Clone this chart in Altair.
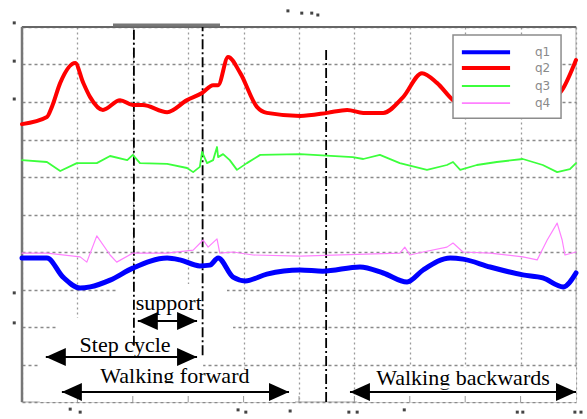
import altair as alt
import pandas as pd

# ---------------- data (time 0..10, amplitude 0..10; original tick labels illegible) ----------------
q1_t = [0, 0.45, 0.74, 1.05, 1.23, 1.59, 2.0, 2.62, 2.85, 3.21, 3.39, 3.54, 3.81, 4.03, 4.42, 5.02,
        5.43, 6.10, 6.52, 6.95, 7.24, 7.73, 7.96, 8.45, 9.04, 9.40, 9.77, 10]
q1_v = [3.84, 3.84, 3.33, 3.04, 3.07, 3.25, 3.57, 3.84, 3.79, 3.63, 3.65, 3.84, 3.33, 3.23, 3.41, 3.52,
        3.49, 3.60, 3.44, 3.20, 3.52, 3.84, 3.81, 3.60, 3.39, 3.31, 3.07, 3.44]

q2_t = [0, 0.45, 0.54, 0.69, 0.96, 1.10, 1.23, 1.46, 1.77, 2.0, 2.18, 2.62, 2.98, 3.25, 3.45, 3.54,
        3.72, 3.94, 4.24, 4.42, 5.02, 5.51, 5.87, 6.16, 6.52, 6.88, 7.22, 7.49, 7.78, 8.2, 8.7, 9.2,
        9.5, 9.75, 10]
q2_v = [7.41, 7.60, 7.87, 8.51, 9.04, 8.53, 8.13, 7.79, 8.05, 7.92, 7.92, 7.73, 8.05, 8.24, 8.45, 8.45,
        9.20, 8.77, 7.87, 7.71, 7.63, 7.71, 7.79, 7.71, 7.71, 8.13, 8.77, 8.51, 8.05, 7.75, 7.70, 7.80,
        8.00, 8.32, 9.12]

q3_t = [0, 0.45, 0.69, 0.99, 1.35, 1.59, 1.90, 2.0, 2.13, 2.62, 2.98, 3.09, 3.21, 3.25, 3.34, 3.45,
        3.52, 3.54, 3.63, 3.75, 3.88, 4.06, 4.30, 5.02, 5.97, 6.16, 6.46, 6.82, 7.31, 7.67, 7.78, 7.91,
        8.21, 8.57, 9.04, 9.40, 9.66, 9.89, 10]
q3_v = [6.45, 6.40, 6.16, 6.37, 6.37, 6.56, 6.45, 6.59, 6.37, 6.35, 6.24, 6.13, 6.27, 6.67, 6.37, 6.45,
        6.80, 6.53, 6.61, 6.45, 6.19, 6.37, 6.59, 6.61, 6.53, 6.48, 6.59, 6.37, 6.19, 6.32, 6.40, 6.19,
        6.32, 6.40, 6.48, 6.32, 6.13, 6.21, 6.37]

q4_t = [0, 0.45, 1.05, 1.17, 1.35, 1.59, 1.71, 2.0, 2.62, 3.09, 3.27, 3.36, 3.52, 3.57, 3.81, 4.17,
        5.02, 6.82, 6.91, 7.00, 7.24, 7.67, 7.78, 7.96, 8.45, 9.04, 9.30, 9.48, 9.66, 9.75, 9.80, 10]
q4_v = [3.97, 3.97, 3.87, 3.73, 4.43, 3.92, 3.73, 3.97, 3.97, 4.05, 4.32, 4.13, 4.35, 3.97, 4.00, 3.92,
        3.89, 3.97, 4.13, 3.92, 4.00, 4.13, 4.24, 4.00, 3.97, 3.87, 3.79, 4.32, 4.77, 4.32, 3.92, 4.00]

series_names = ["q1", "q2", "q3", "q4"]
series_colors = ["#0000ff", "#ff0000", "#3cff3c", "#ff80ff"]
series_widths = [5, 4, 1.8, 1.2]

# phase markers (dash-dot verticals)
phase_x = [2.02, 3.26, 5.49]
phase_top = [10, 10, 9.44]
phase_bottom = [1.5, 1.25, 0]

# annotation arrows
arrow_label = ["support", "Step cycle", "Walking forward", "Walking backwards"]
arrow_from = [2.09, 0.43, 0.72, 5.92]
arrow_to = [3.16, 3.16, 4.82, 10.0]
arrow_y = [2.16, 1.20, 0.27, 0.27]
label_x = [2.65, 1.86, 2.76, 7.96]
label_y = [2.45, 1.33, 0.51, 0.45]

# stray fragments of illegible tick labels
frag_x = [-0.14, -0.14, -0.14, -0.14, -0.14, 4.80, 5.05, 5.23, 5.34,
          0.87, 1.05, 3.90, 4.04, 4.84, 5.90, 6.05, 6.90, 8.94, 9.04, 9.98, 10.09]
frag_y = [10.11, 9.09, 8.08, 2.91, 2.11, 10.43, 10.37, 10.37, 10.32,
          -0.19, -0.27, -0.21, -0.27, -0.24, -0.27, -0.27, -0.21, -0.27, -0.27, -0.27, -0.27]

tick_values = list(range(11))

# ---------------- tables ----------------
curves = []
for name, ts, vs in zip(series_names, [q1_t, q2_t, q3_t, q4_t], [q1_v, q2_v, q3_v, q4_v]):
    curves.append(pd.DataFrame({"x": ts, "y": vs, "series": name}))

phase_df = pd.DataFrame({"x": phase_x, "y": phase_bottom, "y2": phase_top})
arrow_df = pd.DataFrame({"label": arrow_label, "x": arrow_from, "x2": arrow_to, "y": arrow_y,
                         "lx": label_x, "ly": label_y})
heads_df = pd.concat([
    pd.DataFrame({"x": arrow_from, "y": arrow_y, "dir": "left"}),
    pd.DataFrame({"x": arrow_to, "y": arrow_y, "dir": "right"}),
])
frag_df = pd.DataFrame({"x": frag_x, "y": frag_y})
tick_df = pd.DataFrame({"x": tick_values[1:-1]})

# white patches behind the annotations (hide the grid)
mask_df = pd.DataFrame({
    "x": [1.71, 0.65, 0.32, 0.72, 6.05],
    "x2": [3.70, 3.81, 3.27, 4.93, 10.0],
    "y": [1.92, 1.52, 0.0, 0.0, 0.0],
    "y2": [3.15, 2.24, 1.52, 0.85, 0.93],
})
# thin bands that clip the descenders of the two lower labels
cut_df = pd.DataFrame({"x": [0.9, 6.1], "x2": [4.7, 9.8], "y": [0.36, 0.36], "y2": [0.50, 0.44]})

# manual legend
leg_box = pd.DataFrame({"x": [7.78], "x2": [9.73], "y": [7.57], "y2": [9.79]})
leg_df = pd.DataFrame({"series": series_names, "x": [7.94] * 4, "x2": [8.81] * 4,
                       "y": [9.33, 8.91, 8.43, 7.97], "lx": [9.26] * 4, "w": [4, 4, 2, 1.8]})

dummy = pd.DataFrame({"a": [0]})

# ---------------- encodings ----------------
XS = alt.Scale(domain=[0, 10], nice=False, zero=False)
YS = alt.Scale(domain=[0, 10], nice=False, zero=False)
XA = alt.Axis(values=tick_values, labels=False, ticks=False, domain=False, title="",
              grid=True, gridDash=[2, 3], gridColor="#9a9a9a", gridWidth=1.3)
YA = alt.Axis(values=tick_values, labels=False, ticks=False, domain=False, title="",
              grid=True, gridDash=[3, 3], gridColor="#8a8a8a", gridWidth=1.5)


def X(f):
    return alt.X(f, type="quantitative", scale=XS, axis=XA)


def Y(f):
    return alt.Y(f, type="quantitative", scale=YS, axis=YA)


layers = []

layers.append(alt.Chart(mask_df).mark_rect(color="white").encode(
    x=X("x"), x2="x2", y=Y("y"), y2="y2"))

layers.append(alt.Chart(tick_df).mark_rule(color="#999999", strokeWidth=1).encode(
    x=X("x"), y=alt.value(375), y2=alt.value(369)))

# frame
layers.append(alt.Chart(dummy).mark_rule(color="#666666", strokeWidth=2.2).encode(
    x=alt.value(0), x2=alt.value(554), y=alt.value(0)))
layers.append(alt.Chart(dummy).mark_rule(color="#777777", strokeWidth=2.5).encode(
    x=alt.value(0), y=alt.value(0), y2=alt.value(375)))
layers.append(alt.Chart(dummy).mark_rule(color="#777777", strokeWidth=3).encode(
    x=alt.value(91), x2=alt.value(198), y=alt.value(-2)))

layers.append(alt.Chart(phase_df).mark_rule(color="black", strokeWidth=1.8, strokeDash=[10, 3, 2, 3]).encode(
    x=X("x"), y=Y("y"), y2="y2"))

for df, col, w in zip(curves, series_colors, series_widths):
    interp = "monotone" if w >= 4 else "linear"
    layers.append(alt.Chart(df).mark_line(color=col, strokeWidth=w, interpolate=interp,
                                          strokeJoin="round", strokeCap="round").encode(
        x=X("x"), y=Y("y"), order="x:Q"))

# legend
layers.append(alt.Chart(leg_box).mark_rect(fill="white", stroke="#8c8c8c", strokeWidth=1.5).encode(
    x=X("x"), x2="x2", y=Y("y"), y2="y2"))
layers.append(alt.Chart(leg_df).mark_rule().encode(
    x=X("x"), x2="x2", y=Y("y"),
    color=alt.Color("series:N", scale=alt.Scale(domain=series_names, range=series_colors), legend=None),
    strokeWidth=alt.StrokeWidth("w:Q", scale=None, legend=None)))
layers.append(alt.Chart(leg_df).mark_text(align="left", baseline="middle", font="DejaVu Sans",
                                          fontSize=12, color="#8a8a8a").encode(
    x=X("lx"), y=Y("y"), text="series:N"))

# annotations
layers.append(alt.Chart(arrow_df).mark_text(align="center", baseline="alphabetic", font="Liberation Serif",
                                            fontSize=22, color="black").encode(
    x=X("lx"), y=Y("ly"), text="label:N"))
layers.append(alt.Chart(cut_df).mark_rect(color="white").encode(
    x=X("x"), x2="x2", y=Y("y"), y2="y2"))
layers.append(alt.Chart(arrow_df).mark_rule(color="black", strokeWidth=2).encode(
    x=X("x"), x2="x2", y=Y("y")))
layers.append(alt.Chart(heads_df[heads_df["dir"] == "right"]).mark_point(
    shape="M-2,-0.9L0,0L-2,0.9Z", filled=True, size=400, color="black", opacity=1, strokeWidth=0).encode(
    x=X("x"), y=Y("y")))
layers.append(alt.Chart(heads_df[heads_df["dir"] == "left"]).mark_point(
    shape="M2,-0.9L0,0L2,0.9Z", filled=True, size=400, color="black", opacity=1, strokeWidth=0).encode(
    x=X("x"), y=Y("y")))

layers.append(alt.Chart(frag_df).mark_square(size=9, color="#444444", opacity=1).encode(
    x=X("x"), y=Y("y")))

chart = alt.layer(*layers).properties(
    width=554, height=375,
    autosize=alt.AutoSizeParams(type="none"),
    padding={"left": 22, "top": 27, "right": 11, "bottom": 17},
    background="white",
).configure_view(stroke="#c8c8c8", strokeWidth=1.5)

chart.save("out.html", embed_options={"renderer": "svg", "actions": False})
